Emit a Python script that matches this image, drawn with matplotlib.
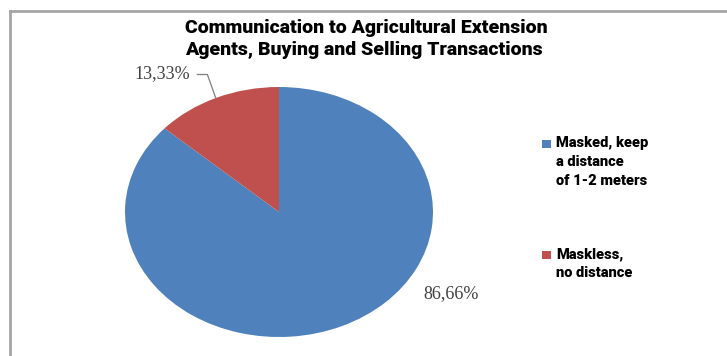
import matplotlib.pyplot as plt
from matplotlib.lines import Line2D
from matplotlib.patches import Rectangle

labels = ["Masked, keep\na distance\nof 1-2 meters", "Maskless,\nno distance"]
shares = [86.66, 13.33]
colors = ["#4F81BD", "#C0504D"]

W, H = 727, 356
fig = plt.figure(figsize=(W / 100, H / 100), dpi=100)


def px(x0, y0, x1, y1):
    # pixel box (top-left origin) -> figure fraction rect
    return [x0 / W, 1 - y1 / H, (x1 - x0) / W, (y1 - y0) / H]


# chart frame, cut off at right and bottom
fig.add_artist(Line2D([10 / W, 10 / W], [1 - 11 / H, 0], color="#a6a6a6", lw=2))
fig.add_artist(Line2D([10 / W, 1], [1 - 11 / H, 1 - 11 / H], color="#a6a6a6", lw=2))

ax = fig.add_axes(px(125, 87, 433, 337))
wedges, _ = ax.pie(shares, colors=colors, startangle=90, counterclock=False,
                   radius=1.0, wedgeprops=dict(linewidth=0))
ax.set_aspect("auto")
ax.set_xlim(-1, 1)
ax.set_ylim(-1, 1)

label_font = dict(family="Liberation Serif", fontsize=13, color="#404040")
ax.text(1.12, -0.65, f"{shares[0]:.2f}%".replace(".", ","), ha="center",
        va="center", clip_on=False, **label_font)
ax.text(-0.76, 1.11, f"{shares[1]:.2f}%".replace(".", ","), ha="center",
        va="center", clip_on=False, **label_font)
ax.plot([-0.53, -0.465, -0.41], [1.10, 1.10, 0.91], color="#7f7f7f",
        lw=0.9, clip_on=False)

heavy = dict(family=["Roboto", "DejaVu Sans"], fontweight="black")

fig.text(185 / W, 1 - 39 / H,
         "Communication to Agricultural Extension\nAgents, Buying and Selling Transactions",
         fontsize=14, ha="left", va="center", linespacing=1.3, **heavy)

# legend: colour box next to the first line of each entry
legend_rows = [144, 255]
for lab, c, y in zip(labels, colors, legend_rows):
    fig.add_artist(Rectangle((542 / W, 1 - (y + 4) / H), 9 / W, 8 / H,
                             facecolor=c, edgecolor="none"))
    fig.text(556 / W, 1 - (y - 8) / H, lab, fontsize=10.5, ha="left",
             va="top", linespacing=1.45, **heavy)

fig.savefig("out.png", dpi=100)
